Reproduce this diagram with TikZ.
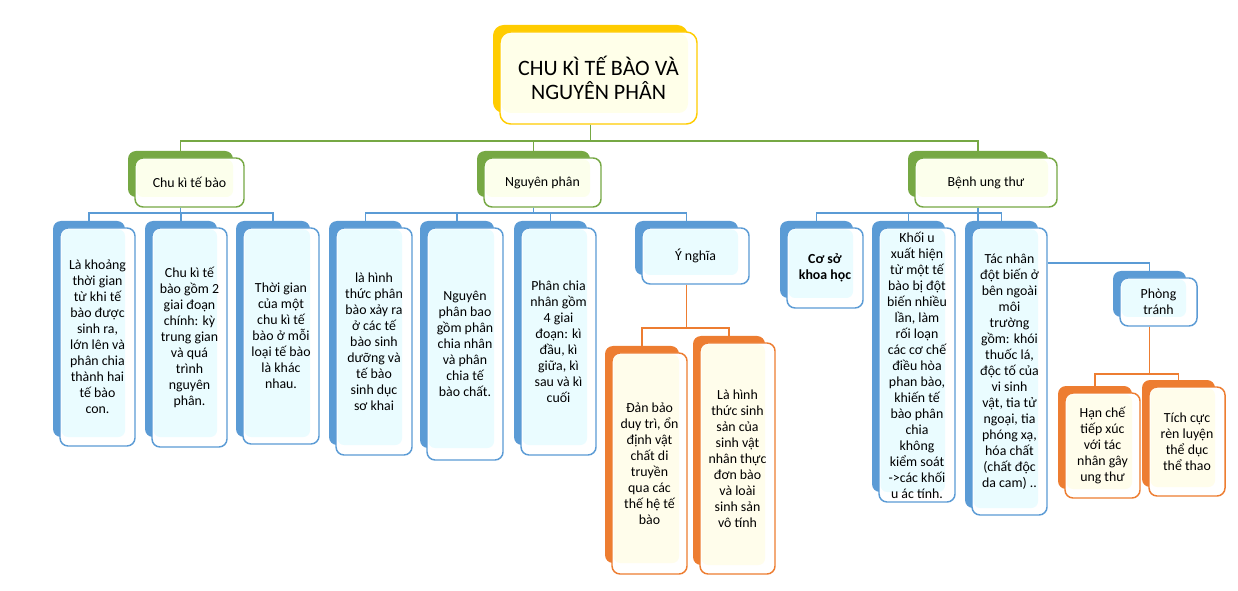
\documentclass[tikz,border=0pt]{standalone}
\usepackage{fontspec}
\setmainfont{Carlito}
\definecolor{bluedark}{HTML}{5B9BD5}
\definecolor{bluelight}{HTML}{EAFCFF}
\definecolor{greendark}{HTML}{76A844}
\definecolor{greenlight}{HTML}{FCFFEC}
\definecolor{ordark}{HTML}{ED7D31}
\definecolor{orlight}{HTML}{FFFDEB}
\definecolor{yeldark}{HTML}{FFCC00}
\definecolor{yellight}{HTML}{FFFFE9}
\newcommand\leaffont{\fontsize{10.4}{12}\selectfont}
\newcommand\rootfont{\fontsize{16.5}{17.5}\selectfont}
\tikzset{
  gline/.style={draw=greendark, line width=1pt},
  bline/.style={draw=bluedark, line width=1pt},
  oline/.style={draw=ordark, line width=1.1pt},
}
% #1 name, #2 palette, #3-#6 front box, #7-#8 back bottom-right, #9 text
\newcommand\mybox[9]{%
  \node[fill=#2dark, rounded corners=6pt, inner sep=0pt,
        minimum width={(#7-#3+7)*0.75pt}, minimum height={(#8-#4+7)*0.75pt}]
        (#1b) at ({(#3-7+#7)/2},{(#4-7+#8)/2}) {};
  \fill[white, rounded corners=6pt] (#3,#4) rectangle (#5,#6);
  \fill[#2light, rounded corners=5pt] (#3+1.5,#4+1.5) rectangle (#7,#8);
  \node[draw=#2dark, line width=1.1pt, rounded corners=6pt, inner sep=0pt,
        minimum width={(#5-#3)*0.75pt}, minimum height={(#6-#4)*0.75pt},
        align=center, font=\leaffont, text=black]
        (#1) at ({(#3+#5)/2},{(#4+#6)/2}) {#9};
}
\begin{document}
\begin{tikzpicture}[x=0.75pt,y=-0.75pt]
\useasboundingbox (0,0) rectangle (1238,591);
% root
\node[fill=yeldark, rounded corners=8pt, inner sep=0pt,
      minimum width={195*0.75pt}, minimum height={88*0.75pt}] (rootb) at (590.5,69) {};
\fill[white, rounded corners=8pt] (500,32) rectangle (697,124);
\fill[yellight, rounded corners=7pt] (501.5,33.5) rectangle (688,113);
\node[draw=yeldark, line width=1.1pt, rounded corners=8pt, inner sep=0pt,
      minimum width={197*0.75pt}, minimum height={92*0.75pt},
      align=center, font=\rootfont, text=black] (root) at (598.5,78)
      {CHU KÌ TẾ BÀO VÀ\\NGUYÊN PHÂN};
% level 1
\mybox{ck}{green}{135}{158}{244}{207}{233}{197}{Chu kì tế bào}
\mybox{np}{green}{484}{158}{601}{207}{590}{197}{Nguyên phân}
\mybox{bu}{green}{915}{158}{1057}{207}{1048}{197}{Bệnh ung thư}
% level 2
\mybox{n1}{blue}{60}{228}{135}{446}{125}{437}{Là khoảng\\thời gian\\từ khi tế\\bào được\\sinh ra,\\lớn lên và\\phân chia\\thành hai\\tế bào\\con.}
\mybox{n2}{blue}{152}{228}{227}{447}{217}{437}{Chu kì tế\\bào gồm 2\\giai đoạn\\chính: kỳ\\trung gian\\và quá\\trình\\nguyên\\phân.}
\mybox{n3}{blue}{243}{228}{319}{444}{310}{437}{Thời gian\\của một\\chu kì tế\\bào ở mỗi\\loại tế bào\\là khác\\nhau.}
\mybox{n4}{blue}{336}{228}{412}{455}{402}{445}{là hình\\thức phân\\bào xảy ra\\ở các tế\\bào sinh\\dưỡng và\\tế bào\\sinh dục\\sơ khai}
\mybox{n5}{blue}{427}{228}{503}{460}{494}{448}{Nguyên\\phân bao\\gồm phân\\chia nhân\\và phân\\chia tế\\bào chất.}
\mybox{n6}{blue}{521}{228}{596}{455}{587}{445}{Phân chia\\nhân gồm\\4 giai\\đoạn: kì\\đầu, kì\\giữa, kì\\sau và kì\\cuối}
\mybox{yn}{blue}{642}{228}{749}{284}{738}{275}{Ý nghĩa}
\mybox{n9}{blue}{787}{228}{863}{308}{853}{298}{\textbf{Cơ sở}\\\textbf{khoa học}}
\mybox{n10}{blue}{879}{228}{955}{502}{945}{492}{Khối u\\xuất hiện\\từ một tế\\bào bị đột\\biến nhiều\\lần, làm\\rối loạn\\các cơ chế\\điều hòa\\phan bào,\\khiến tế\\bào phân\\chia\\không\\kiểm soát\\->các khối\\u ác tính.}
\mybox{n11}{blue}{972}{228}{1047}{515}{1038}{508}{Tác nhân\\đột biến ở\\bên ngoài\\môi\\trường\\gồm: khói\\thuốc lá,\\độc tố của\\vi sinh\\vật, tia tử\\ngoại, tia\\phóng xạ,\\hóa chất\\(chất độc\\da cam) ..}
% level 3
\mybox{n7}{or}{612}{353}{687}{574}{679}{563}{Đản bảo\\duy trì, ổn\\định vật\\chất di\\truyền\\qua các\\thế hệ tế\\bào}
\mybox{n8}{or}{700}{343}{775}{574}{765}{565}{Là hình\\thức sinh\\sản của\\sinh vật\\nhân thực\\đơn bào\\và loài\\sinh sản\\vô tính}
\mybox{pt}{blue}{1120}{278}{1197}{326}{1186}{317}{Phòng\\tránh}
\mybox{n12}{or}{1065}{393}{1140}{498}{1132}{489}{Hạn chế\\tiếp xúc\\với tác\\nhân gây\\ung thư}
\mybox{n13}{or}{1149}{387}{1225}{496}{1215}{487}{Tích cực\\rèn luyện\\thể dục\\thể thao}
% bus coordinates
\coordinate (y0) at (0,141);
\coordinate (y1) at (0,213);
\coordinate (y2) at (0,328);
\coordinate (y3) at (0,374);
\coordinate (y4) at (0,263);
% connectors
\draw[gline] (root.south -| rootb.center) -- (rootb.center |- y0) -| (ckb.north);
\draw[gline] (root.south -| rootb.center) -- (rootb.center |- y0) -| (npb.north);
\draw[gline] (root.south -| rootb.center) -- (rootb.center |- y0) -| (bub.north);
\draw[bline] (ck.south -| ckb.center) -- (ckb.center |- y1) -| (n1b.north);
\draw[bline] (ck.south -| ckb.center) -- (ckb.center |- y1) -| (n2b.north);
\draw[bline] (ck.south -| ckb.center) -- (ckb.center |- y1) -| (n3b.north);
\draw[bline] (np.south -| npb.center) -- (npb.center |- y1) -| (n4b.north);
\draw[bline] (np.south -| npb.center) -- (npb.center |- y1) -| (n5b.north);
\draw[bline] (np.south -| npb.center) -- (npb.center |- y1) -| (n6b.north);
\draw[bline] (np.south -| npb.center) -- (npb.center |- y1) -| (ynb.north);
\draw[bline] (bu.south -| bub.center) -- (bub.center |- n11b.north);
\draw[bline] (bu.south -| bub.center) -- (bub.center |- y1) -| (n9b.north);
\draw[bline] (bu.south -| bub.center) -- (bub.center |- y1) -| (n10b.north);
\draw[bline] (bu.south -| bub.center) -- (bub.center |- y1) -| (n11b.north);
\draw[oline] (yn.south -| ynb.center) -- (ynb.center |- y2) -| (n7b.north);
\draw[oline] (yn.south -| ynb.center) -- (ynb.center |- y2) -| (n8b.north);
\draw[bline] (n11.east |- y4) -| (ptb.north);
\draw[oline] (pt.south -| ptb.center) -- (ptb.center |- y3) -| (n12b.north);
\draw[oline] (pt.south -| ptb.center) -- (ptb.center |- y3) -| (n13b.north);
\end{tikzpicture}
\end{document}
